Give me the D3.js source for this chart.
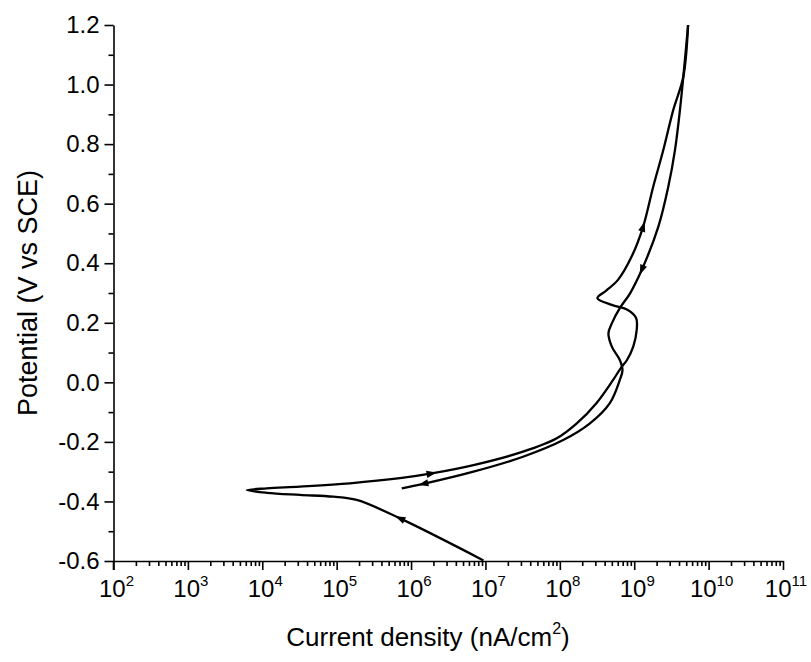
<!DOCTYPE html>
<html>
<head>
<meta charset="utf-8">
<script src="https://cdn.jsdelivr.net/npm/d3@7/dist/d3.min.js"></script>
<style>
  html, body { margin: 0; padding: 0; background: #fff; }
  svg { display: block; }
  text { font-family: "Liberation Sans", Arial, sans-serif; fill: #000; }
</style>
</head>
<body>
<svg id="chart" width="811" height="662"></svg>
<script>
// Cyclic polarization scan: forward (anodic) sweep then reverse sweep.
const forwardCurrent = [9.4e6, 7.1e5, 1.86e5, 9.0e4, 3.2e4, 1.15e4, 6.2e3, 1.15e4, 3.2e4, 1.51e5,
  7.1e5, 1.89e6, 6.9e6, 3.2e7, 9.1e7, 1.69e8, 3.1e8, 5.2e8, 6.6e8, 8.0e8,
  9.7e8, 1.08e9, 1.06e9, 8.2e8, 5.0e8, 3.2e8, 4.2e8, 6.05e8, 9.3e8, 1.32e9,
  1.80e9, 2.46e9, 3.35e9, 4.57e9, 5.3e9];
const forwardPotential = [-0.598, -0.457, -0.395, -0.384, -0.378, -0.371, -0.362, -0.356, -0.350, -0.339,
  -0.322, -0.306, -0.278, -0.233, -0.188, -0.138, -0.070, 0.008, 0.048, 0.075,
  0.120, 0.176, 0.216, 0.243, 0.260, 0.283, 0.308, 0.344, 0.424, 0.523,
  0.657, 0.780, 0.915, 1.026, 1.2];
const reverseCurrent = [5.3e9, 4.57e9, 4.12e9, 3.53e9, 2.87e9, 2.11e9, 1.26e9, 8.8e8, 6.4e8, 5.0e8,
  4.5e8, 5.0e8, 6.4e8, 6.95e8, 6.4e8, 4.7e8, 2.54e8, 1.11e8, 3.2e7, 6.9e6,
  1.46e6, 7.5e5];
const reversePotential = [1.2, 1.026, 0.915, 0.780, 0.657, 0.523, 0.377, 0.299, 0.249, 0.198,
  0.165, 0.120, 0.075, 0.041, 0.008, -0.070, -0.138, -0.194, -0.250, -0.300,
  -0.341, -0.356];
// Indices where a direction arrow sits on each sweep
const forwardArrows = [1, 11, 29];
const reverseArrows = [6, 20];

const xExponents = [2, 3, 4, 5, 6, 7, 8, 9, 10, 11];
const yTicks = [-0.6, -0.4, -0.2, 0.0, 0.2, 0.4, 0.6, 0.8, 1.0, 1.2];
const yMinorTicks = [-0.5, -0.3, -0.1, 0.1, 0.3, 0.5, 0.7, 0.9, 1.1];
const xTitle = "Current density (nA/cm";
const yTitle = "Potential (V vs SCE)";

const svg = d3.select("#chart");
const plotLeft = 113.5, plotRight = 783, plotTop = 25, plotBottom = 561;

const x = d3.scaleLog().domain([1e2, 1e11]).range([plotLeft, plotRight]);
const y = d3.scaleLinear().domain([-0.6, 1.2]).range([plotBottom, plotTop]);

const xMajor = xExponents.map(e => Math.pow(10, e));
const xMinor = [];
xExponents.slice(0, -1).forEach(e => {
  for (let m = 2; m <= 9; m++) xMinor.push(m * Math.pow(10, e));
});

// Bottom axis: minor ticks, then major ticks with the axis line
svg.append("g").attr("transform", `translate(0,${plotBottom})`)
  .call(d3.axisBottom(x).tickValues(xMinor).tickSize(5).tickSizeOuter(0).tickFormat(""))
  .call(g => g.select(".domain").remove());
svg.append("g").attr("transform", `translate(0,${plotBottom})`)
  .call(d3.axisBottom(x).tickValues(xMajor).tickSize(9).tickSizeOuter(0).tickFormat(""));

// Power-of-ten labels
xExponents.forEach(e => {
  const t = svg.append("text")
    .attr("x", x(Math.pow(10, e)) + 3)
    .attr("y", 597)
    .attr("text-anchor", "middle")
    .style("font-size", "24px");
  t.append("tspan").text("10");
  t.append("tspan").attr("dy", -11).style("font-size", "15px").text(e);
});

// Left axis
svg.append("g").attr("transform", `translate(${plotLeft},0)`)
  .call(d3.axisLeft(y).tickValues(yMinorTicks).tickSize(5).tickSizeOuter(0).tickFormat(""))
  .call(g => g.select(".domain").remove());
const gy = svg.append("g").attr("transform", `translate(${plotLeft},0)`)
  .call(d3.axisLeft(y).tickValues(yTicks).tickSize(9).tickSizeOuter(0).tickPadding(5)
    .tickFormat(d => d.toFixed(1)));
gy.selectAll("text").style("font-size", "24px")
  .style("font-family", '"Liberation Sans", Arial, sans-serif');

// Extend the y axis line down to the bottom tick length
svg.append("line").attr("x1", plotLeft).attr("x2", plotLeft)
  .attr("y1", plotBottom).attr("y2", plotBottom + 9);

svg.selectAll("g line, g path.domain, svg > line")
  .attr("stroke", "#000").attr("stroke-width", 1.6);

// Axis titles
const xt = svg.append("text").attr("x", 428).attr("y", 646).attr("text-anchor", "middle")
  .style("font-size", "26px");
xt.append("tspan").text(xTitle);
xt.append("tspan").attr("dy", -12).style("font-size", "16px").text("2");
xt.append("tspan").attr("dy", 12).text(")");

svg.append("text")
  .attr("transform", `translate(37,${(plotTop + plotBottom) / 2}) rotate(-90)`)
  .attr("text-anchor", "middle")
  .style("font-size", "27px")
  .text(yTitle);

// Curves
const line = d3.line()
  .x(d => x(d[0]))
  .y(d => y(d[1]))
  .curve(d3.curveCatmullRom.alpha(0.5));

const forward = forwardCurrent.map((c, i) => [c, forwardPotential[i]]);
const reverse = reverseCurrent.map((c, i) => [c, reversePotential[i]]);

[forward, reverse].forEach(pts => {
  svg.append("path")
    .attr("d", line(pts))
    .attr("fill", "none")
    .attr("stroke", "#000")
    .attr("stroke-width", 2.3)
    .attr("stroke-linejoin", "round");
});

// Arrowheads pointing along the sweep direction
function arrow(pts, i) {
  const p0 = pts[i - 1], p = pts[i], p1 = pts[i + 1];
  const dx = x(p1[0]) - x(p0[0]);
  const dy = y(p1[1]) - y(p0[1]);
  const ang = Math.atan2(dy, dx) * 180 / Math.PI;
  svg.append("path")
    .attr("d", "M5,0 L-5,-3.6 L-5,3.6 Z")
    .attr("fill", "#000")
    .attr("transform", `translate(${x(p[0])},${y(p[1])}) rotate(${ang})`);
}
forwardArrows.forEach(i => arrow(forward, i));
reverseArrows.forEach(i => arrow(reverse, i));
</script>
</body>
</html>
